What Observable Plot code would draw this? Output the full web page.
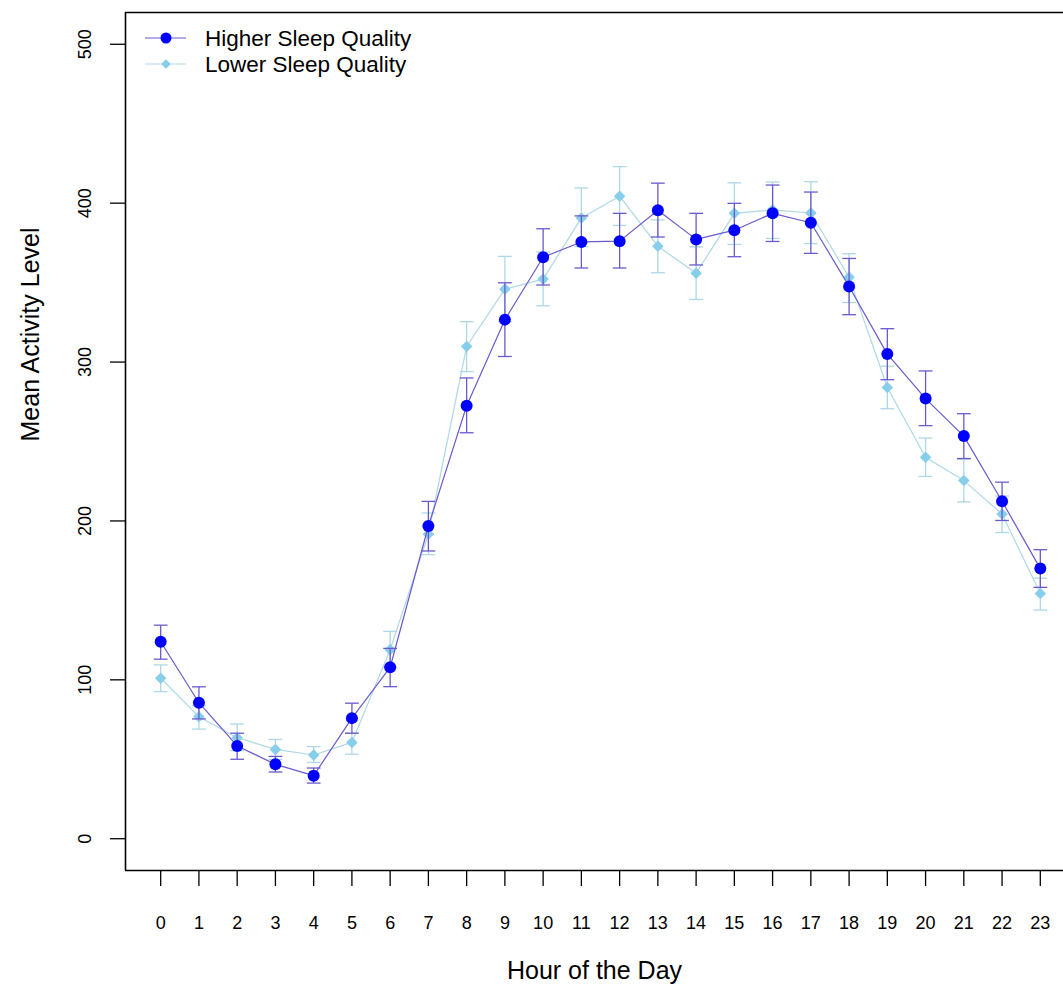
<!DOCTYPE html>
<html>
<head>
<meta charset="utf-8">
<script src="https://cdn.jsdelivr.net/npm/d3@7"></script>
<script src="https://cdn.jsdelivr.net/npm/@observablehq/plot@0.6"></script>
<style>
  html, body { margin: 0; padding: 0; background: #fff; }
  #chart { position: relative; width: 1063px; height: 993px; }
  svg { font-family: "Liberation Sans", Arial, sans-serif; }
</style>
</head>
<body>
<div id="chart"></div>
<script>
// ---- data ----
const hours = [0,1,2,3,4,5,6,7,8,9,10,11,12,13,14,15,16,17,18,19,20,21,22,23];
const yTicks = [0, 100, 200, 300, 400, 500];
const seriesNames = ["Higher Sleep Quality", "Lower Sleep Quality"];

const higherMean = [124, 85.6, 58.4, 46.8, 39.7, 75.9, 107.9, 196.8, 272.5, 326.7, 366, 375.6, 376.1, 395.5, 377.2, 383, 393.6, 387.7, 347.6, 305, 277, 253.4, 212.4, 170];
const higherLo   = [113, 75.4, 50, 42, 35, 66.4, 95.7, 181.1, 255.5, 303.5, 348.5, 359.2, 359.2, 378.7, 361.1, 366.3, 375.9, 368.4, 329.8, 288.9, 260, 239.3, 200.3, 158.2];
const higherHi   = [134.4, 95.6, 66.4, 51.8, 44.5, 85.3, 119.8, 212.3, 290, 349.9, 383.9, 392, 393.6, 412.6, 393.6, 399.9, 411.4, 407, 365.2, 321, 294.4, 267.5, 224.4, 181.9];

const lowerMean = [101, 76.8, 63.6, 56.2, 52.7, 60.6, 119, 191.8, 309.8, 345.9, 352.2, 390.7, 404.4, 372.9, 355.9, 393.6, 395.8, 393.8, 353.3, 284, 240.1, 225.4, 204.4, 154.3];
const lowerLo   = [92.6, 69, 55.4, 49.9, 48, 53.2, 108, 178.8, 294, 325.5, 335.4, 372.7, 386, 356.2, 339.4, 374, 377.8, 374.6, 337.5, 270.6, 228, 212, 192.7, 143.9];
const lowerHi   = [109.4, 83.7, 72.2, 62.5, 58, 66.4, 130.5, 205, 325.4, 366.5, 369.2, 409.6, 423, 389.5, 372.5, 412.8, 413.3, 413.5, 368.2, 297.4, 252.2, 238.8, 215.7, 164];

// ---- styles ----
const HI_PT = "#0000FF", HI_LN = "#6A5ACD";
const LO_PT = "#87CEEB", LO_LN = "#ADD8E6";
const CAP = 0.18;
const XDOM = [-0.92, 23.92], YDOM = [-20, 520];

const hiRows = hours.map((h, i) => ({h, m: higherMean[i], lo: higherLo[i], hi: higherHi[i]}));
const loRows = hours.map((h, i) => ({h, m: lowerMean[i], lo: lowerLo[i], hi: lowerHi[i]}));

function errMarks(rows, color) {
  return [
    Plot.link(rows, {x1: "h", x2: "h", y1: "lo", y2: "hi", stroke: color, strokeWidth: 1.3}),
    Plot.link(rows, {x1: d => d.h - CAP, x2: d => d.h + CAP, y1: "lo", y2: "lo", stroke: color, strokeWidth: 1.3}),
    Plot.link(rows, {x1: d => d.h - CAP, x2: d => d.h + CAP, y1: "hi", y2: "hi", stroke: color, strokeWidth: 1.3})
  ];
}

const plot = Plot.plot({
  width: 1063,
  height: 993,
  marginLeft: 125,
  marginRight: 0,
  marginTop: 12,
  marginBottom: 123,
  style: {fontFamily: "'Liberation Sans', Arial, sans-serif", background: "#fff"},
  x: {domain: XDOM, range: [125, 1075]},
  y: {domain: YDOM, range: [870, 12]},
  marks: [
    // frame (right side extends beyond the view)
    Plot.ruleY([YDOM[0], YDOM[1]], {x1: XDOM[0], x2: XDOM[1], stroke: "#000", strokeWidth: 1.6}),
    Plot.ruleX([XDOM[0]], {y1: YDOM[0], y2: YDOM[1], stroke: "#000", strokeWidth: 1.6}),
    // axes
    Plot.axisX({ticks: hours, tickSize: 16, tickPadding: 30, fontSize: 18, label: null, stroke: "#000", strokeWidth: 1.3, tickFormat: d => String(d), color: "#000"}),
    Plot.axisY({ticks: yTicks, tickSize: 15, tickFormat: () => "", label: null, stroke: "#000", strokeWidth: 1.3}),
    Plot.text(yTicks, {y: d => d, text: d => String(d), frameAnchor: "left", dx: -40, rotate: -90, fontSize: 18, fill: "#000", textAnchor: "middle"}),
    // axis titles
    Plot.text(["Hour of the Day"], {frameAnchor: "bottom", dy: 108, fontSize: 25, fill: "#000", text: d => d}),
    Plot.text(["Mean Activity Level"], {frameAnchor: "left", dx: -95, rotate: -90, fontSize: 25, fill: "#000", text: d => d}),
    // lower series
    ...errMarks(loRows, LO_LN),
    Plot.line(loRows, {x: "h", y: "m", stroke: LO_LN, strokeWidth: 1.2}),
    Plot.dot(loRows, {x: "h", y: "m", symbol: "diamond2", r: 5.2, fill: LO_PT, stroke: "none"}),
    // higher series
    ...errMarks(hiRows, HI_LN),
    Plot.line(hiRows, {x: "h", y: "m", stroke: HI_LN, strokeWidth: 1.2}),
    Plot.dot(hiRows, {x: "h", y: "m", r: 6, fill: HI_PT, stroke: "none"})
  ]
});

// legend glyphs (layout only)
const svg = d3.select(plot);
const leg = svg.append("g").attr("text-anchor", "start");
const legendItems = [
  {name: seriesNames[0], ln: HI_LN, pt: HI_PT, sym: "circle", y: 38},
  {name: seriesNames[1], ln: LO_LN, pt: LO_PT, sym: "diamond", y: 64}
];
legendItems.forEach(it => {
  leg.append("line").attr("x1", 145).attr("x2", 186).attr("y1", it.y).attr("y2", it.y)
     .attr("stroke", it.ln).attr("stroke-width", 1.2);
  if (it.sym === "circle") {
    leg.append("circle").attr("cx", 166).attr("cy", it.y).attr("r", 5.5).attr("fill", it.pt);
  } else {
    leg.append("path").attr("d", d3.symbol(d3.symbolDiamond2, 60)()).attr("transform", `translate(166,${it.y})`).attr("fill", it.pt);
  }
  leg.append("text").attr("x", 205).attr("y", it.y).attr("dy", "0.35em")
     .attr("text-anchor", "start").attr("font-size", 22.5).attr("fill", "#000").text(it.name);
});

document.getElementById("chart").appendChild(plot);
</script>
</body>
</html>
